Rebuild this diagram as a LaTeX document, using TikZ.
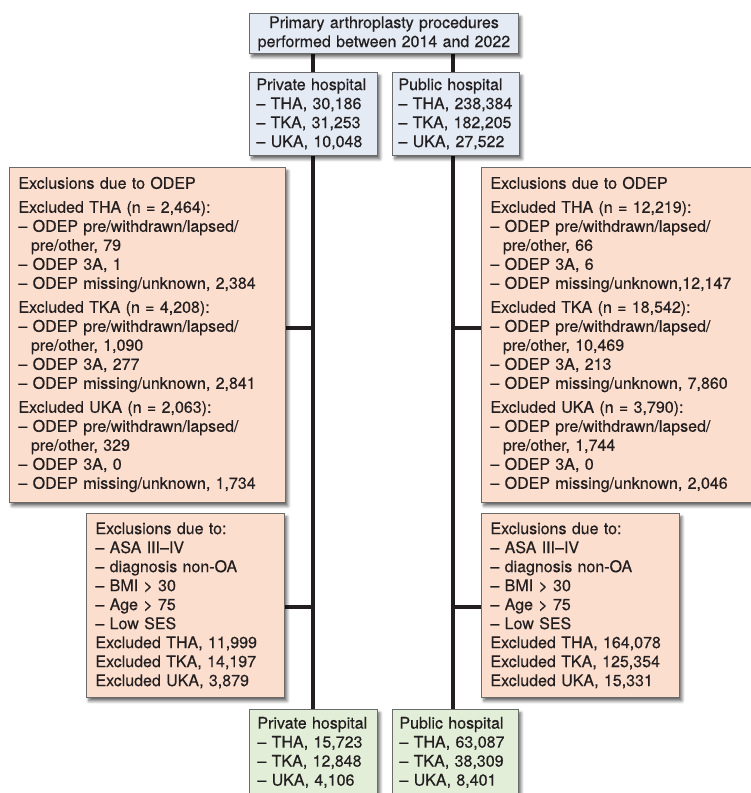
\documentclass[tikz,border=0pt]{standalone}
\usepackage{fontspec}
\setmainfont{TeX Gyre Heros}
\newfontfamily\boxfont{TeX Gyre Heros}[FakeBold=0.4]
\usetikzlibrary{shadows.blur,backgrounds}
\definecolor{bluebox}{HTML}{E4EBF5}
\definecolor{salmon}{HTML}{FCDECE}
\definecolor{greenbox}{HTML}{E2EED8}
\definecolor{edgec}{HTML}{6A6A6A}
\definecolor{linec}{HTML}{231F20}
\definecolor{txt}{HTML}{231F20}
\tikzset{
  box/.style={draw=edgec, line width=0.9pt, anchor=north west, inner ysep=0pt,
    align=left, text=txt, font=\boxfont\fontsize{16}{19}\selectfont,
    blur shadow={shadow xshift=2.5pt, shadow yshift=-3.5pt, shadow blur steps=6, shadow blur radius=3pt, shadow opacity=60}},
  conn/.style={draw=linec, line width=3.6pt},
}
\newcommand{\odepcont}{\hspace*{12.5pt}}
\begin{document}
\begin{tikzpicture}[x=1pt,y=-1pt]
\useasboundingbox (0,0) rectangle (751,793);
\clip (0,0) rectangle (751,793);
\node[box, fill=bluebox, minimum width=269pt, minimum height=40pt, text width=255pt, inner xsep=7pt, align=center] (top) at (249,13)
  {Primary arthroplasty procedures\\performed between 2014 and 2022};
\node[box, fill=bluebox, minimum width=128pt, minimum height=83pt, text width=114pt, inner xsep=7pt] (privA) at (249,72)
  {Private hospital\\– THA, 30,186\\– TKA, 31,253\\– UKA, 10,048};
\node[box, fill=bluebox, minimum width=127pt, minimum height=83pt, text width=115pt, inner xsep=6pt] (pubA) at (392,72)
  {Public hospital\\\mbox{– THA, 238,384}\\\mbox{– TKA, 182,205}\\– UKA, 27,522};
\node[box, fill=salmon, minimum width=276pt, minimum height=335pt, text width=258pt, inner xsep=9pt] (odepL) at (9,167)
  {\noindent\begin{tabular}{@{}l@{}}Exclusions due to ODEP\\[5pt]
   Excluded THA (n = 2,464):\\– ODEP pre/withdrawn/lapsed/\\\odepcont pre/other, 79\\– ODEP 3A, 1\\– ODEP missing/unknown, 2,384\\[5pt]
   Excluded TKA (n = 4,208):\\– ODEP pre/withdrawn/lapsed/\\\odepcont pre/other, 1,090\\– ODEP 3A, 277\\– ODEP missing/unknown, 2,841\\[5pt]
   Excluded UKA (n = 2,063):\\– ODEP pre/withdrawn/lapsed/\\\odepcont pre/other, 329\\– ODEP 3A, 0\\– ODEP missing/unknown, 1,734\end{tabular}};
\node[box, fill=salmon, minimum width=276pt, minimum height=335pt, text width=258pt, inner xsep=9pt] (odepR) at (481,167)
  {\noindent\begin{tabular}{@{}l@{}}Exclusions due to ODEP\\[5pt]
   Excluded THA (n = 12,219):\\– ODEP pre/withdrawn/lapsed/\\\odepcont pre/other, 66\\– ODEP 3A, 6\\– ODEP missing/unknown,12,147\\[5pt]
   Excluded TKA (n = 18,542):\\– ODEP pre/withdrawn/lapsed/\\\odepcont pre/other, 10,469\\– ODEP 3A, 213\\– ODEP missing/unknown, 7,860\\[5pt]
   Excluded UKA (n = 3,790):\\– ODEP pre/withdrawn/lapsed/\\\odepcont pre/other, 1,744\\– ODEP 3A, 0\\– ODEP missing/unknown, 2,046\end{tabular}};
\node[box, fill=salmon, minimum width=198pt, minimum height=184pt, text width=180pt, inner xsep=9pt] (exclL) at (86,513)
  {Exclusions due to:\\– ASA III–IV\\– diagnosis non-OA\\– BMI > 30\\– Age > 75\\– Low SES\\Excluded THA, 11,999\\Excluded TKA, 14,197\\Excluded UKA, 3,879};
\node[box, fill=salmon, minimum width=198pt, minimum height=184pt, text width=180pt, inner xsep=9pt] (exclR) at (481,513)
  {Exclusions due to:\\– ASA III–IV\\– diagnosis non-OA\\– BMI > 30\\– Age > 75\\– Low SES\\Excluded THA, 164,078\\Excluded TKA, 125,354\\Excluded UKA, 15,331};
\node[box, fill=greenbox, minimum width=128pt, minimum height=86pt, text width=112pt, inner xsep=8pt] (privB) at (249,709)
  {Private hospital\\– THA, 15,723\\– TKA, 12,848\\– UKA, 4,106};
\node[box, fill=greenbox, minimum width=126pt, minimum height=86pt, text width=112pt, inner xsep=7pt] (pubB) at (392,709)
  {Public hospital\\– THA, 63,087\\– TKA, 38,309\\– UKA, 8,401};
\coordinate (lx) at (313,0);
\coordinate (rx) at (453,0);
\coordinate (c1) at (0,328);
\coordinate (c2) at (0,607);
\begin{scope}[on background layer]
  \draw[conn] (top.south -| lx) -- (privB.north -| lx);
  \draw[conn] (top.south -| rx) -- (pubB.north -| rx);
  \draw[conn] (odepL.east |- c1) -- (c1 -| lx);
  \draw[conn] (odepR.west |- c1) -- (c1 -| rx);
  \draw[conn] (exclL.east |- c2) -- (c2 -| lx);
  \draw[conn] (exclR.west |- c2) -- (c2 -| rx);
\end{scope}
\end{tikzpicture}
\end{document}
